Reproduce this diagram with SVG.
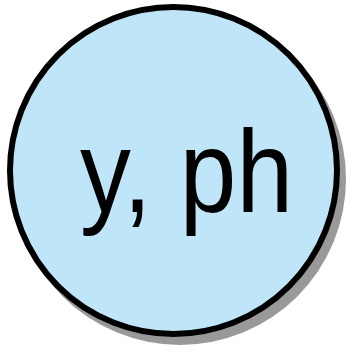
<svg xmlns="http://www.w3.org/2000/svg" width="352" height="351" viewBox="0 0 352 351">
<style>
.shadow{fill:#999999;}
.node{fill:#bee6f8;stroke:#000;stroke-width:6;}
.label{font-family:"Liberation Sans",Arial,sans-serif;font-size:116px;fill:#000;}
</style>
<g id="connectors"></g>
<g id="node1">
<circle class="shadow" cx="180" cy="179" r="166"/>
<circle class="node" cx="173.5" cy="170.5" r="163.5"/>
<text class="label" x="80" y="212" textLength="213" lengthAdjust="spacingAndGlyphs">y, ph</text>
</g>
</svg>
